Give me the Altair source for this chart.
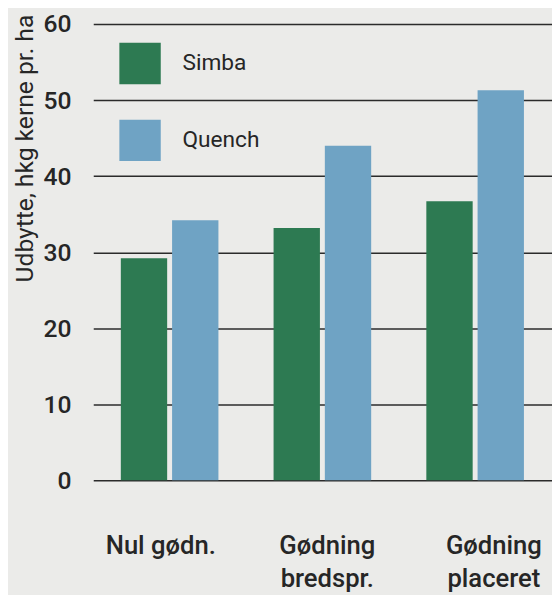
import altair as alt
import pandas as pd

categories = ["Nul gødn.", "Gødning|bredspr.", "Gødning|placeret"]
series = ["Simba", "Quench"]
simba = [29.2, 33.2, 36.7]
quench = [34.2, 44.0, 51.3]
colors = ["#2d7a52", "#6fa3c4"]
y_ticks = [0, 10, 20, 30, 40, 50, 60]

rows = []
for c, s, q in zip(categories, simba, quench):
    rows.append({"cat": c, "sort": "Simba", "val": s})
    rows.append({"cat": c, "sort": "Quench", "val": q})
df = pd.DataFrame(rows)

font = "Roboto"
ink = "#262626"

label_shift = {"expr": "datum.value == 'Nul gødn.' ? -9 : (datum.value == 'Gødning|bredspr.' ? 5 : 19)"}

chart = alt.Chart(df).mark_bar().encode(
    x=alt.X(
        "cat:N", sort=categories,
        scale=alt.Scale(range=[6.5, 471.5], paddingInner=0, paddingOuter=0),
        axis=alt.Axis(
            title=None, labelExpr="split(datum.label, '|')", labelAngle=0,
            domain=False, ticks=False, grid=False, labelFont=font,
            labelFontSize=26, labelFontWeight=500, labelPadding=53,
            labelLineHeight=34, labelColor=ink, labelBaseline="top",
            labelOffset=label_shift,
        ),
    ),
    xOffset=alt.XOffset(
        "sort:N", sort=series,
        scale=alt.Scale(paddingInner=0.096, paddingOuter=0.538),
    ),
    y=alt.Y(
        "val:Q", scale=alt.Scale(domain=[0, 60], nice=False),
        axis=alt.Axis(
            values=y_ticks, domain=False, ticks=False, grid=True,
            gridColor="#2b2b2b", gridWidth=1.5, gridOpacity=1,
            labelFont=font, labelFontSize=25, labelFontWeight=500,
            labelPadding=16, labelColor=ink,
            title="Udbytte, hkg kerne pr. ha", titleFont=font, titleFontSize=25,
            titleFontWeight="normal", titleColor=ink, titleAngle=270,
            titleAlign="right", titleBaseline="alphabetic", titleX=-55, titleY=-10,
        ),
    ),
    color=alt.Color(
        "sort:N", sort=series,
        scale=alt.Scale(domain=series, range=colors),
        legend=alt.Legend(
            title=None, orient="none", legendX=33, legendY=19,
            symbolType="square", symbolSize=1764, symbolStrokeWidth=0,
            labelFont=font, labelFontSize=23, labelColor=ink, labelOffset=22,
            rowPadding=36, padding=0,
        ),
    ),
).properties(
    width=472, height=463,
    padding={"left": 80, "top": 12, "right": 0, "bottom": 112},
    autosize="none", background="#ebebe9",
).configure_view(stroke=None)

chart.save("out.html", embed_options={"renderer": "svg", "actions": False})
